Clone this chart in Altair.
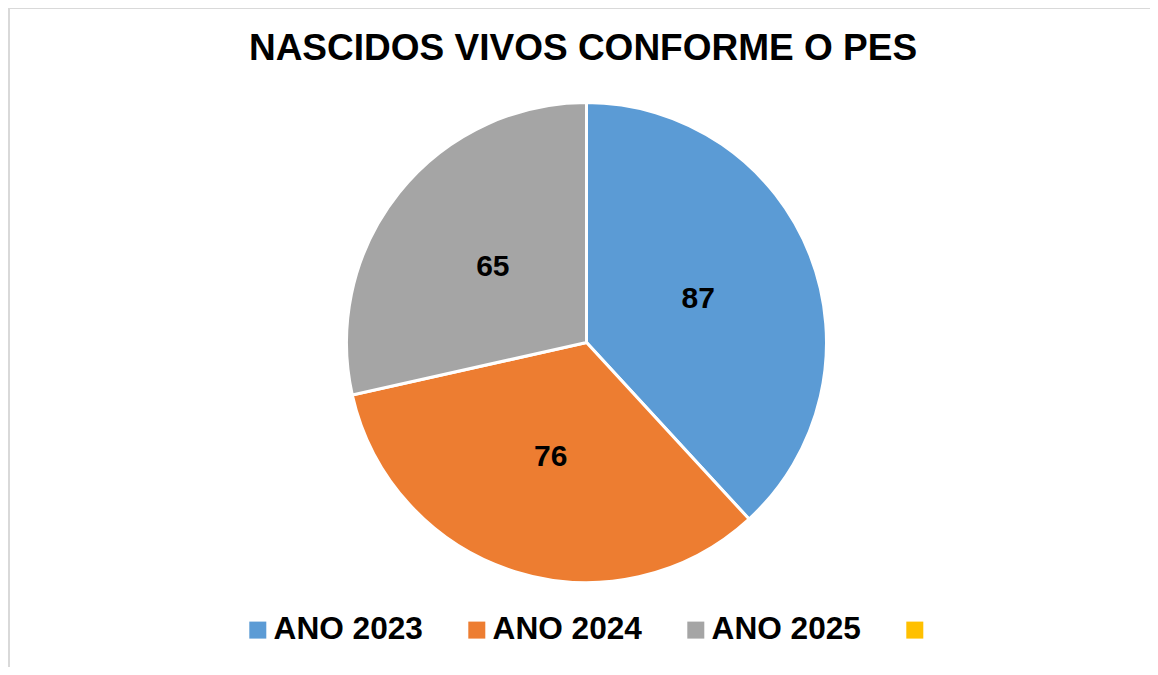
import altair as alt
import pandas as pd

categorias = ["ANO 2023", "ANO 2024", "ANO 2025", "-"]
valores = [87, 76, 65, 0]
ordem = [0, 1, 2, 3]
cores = ["#5B9BD5", "#ED7D31", "#A5A5A5", "#FFC000"]

df = pd.DataFrame({"cat": categorias, "val": valores, "ordem": ordem})

FONT = "Liberation Sans"
W, H = 1142, 659

base = alt.Chart(df).encode(
    theta=alt.Theta("val:Q", stack=True),
    order=alt.Order("ordem:Q"),
    x=alt.value(578.5),
    y=alt.value(334.5),
)

arcs = base.mark_arc(outerRadius=240, stroke="white", strokeWidth=3).encode(
    color=alt.Color(
        "cat:N",
        scale=alt.Scale(domain=categorias, range=cores),
        sort=categorias,
        legend=alt.Legend(
            title=None,
            orient="none",
            direction="horizontal",
            legendX=234,
            legendY=606,
            padding=0,
            symbolType="square",
            symbolSize=289,
            symbolStrokeWidth=0,
            symbolOpacity=1,
            labelFont=FONT,
            labelFontSize=31.6,
            labelFontWeight="bold",
            labelColor="black",
            labelOffset=0,
            columnPadding=38,
            labelLimit=400,
            labelExpr="datum.label == '-' ? '' : datum.label",
        ),
    )
)

labels = base.mark_text(
    radius=120, font=FONT, fontSize=30, fontWeight="bold", color="black"
).encode(text="val:Q").transform_filter("datum.val > 0")

frame_top = alt.Chart(df).mark_rule(color="#d9d9d9", strokeWidth=2).encode(
    x=alt.value(0), x2=alt.value(W), y=alt.value(0)
)
frame_left = alt.Chart(df).mark_rule(color="#d9d9d9", strokeWidth=2).encode(
    x=alt.value(1), y=alt.value(0), y2=alt.value(H)
)

chart = (
    alt.layer(frame_top, frame_left, arcs, labels)
    .properties(
        width=W,
        height=H,
        autosize=alt.AutoSizeParams(type="none"),
        padding=0,
        title=alt.TitleParams(
            "NASCIDOS VIVOS CONFORME O PES",
            font=FONT,
            fontSize=37,
            fontWeight="bold",
            color="black",
            anchor="middle",
            frame="group",
            orient="top",
            offset=0,
            baseline="alphabetic",
            dy=90,
            dx=4,
        ),
    )
    .configure_view(stroke=None)
)

chart.save("out.html", embed_options={"renderer": "svg", "actions": False})
